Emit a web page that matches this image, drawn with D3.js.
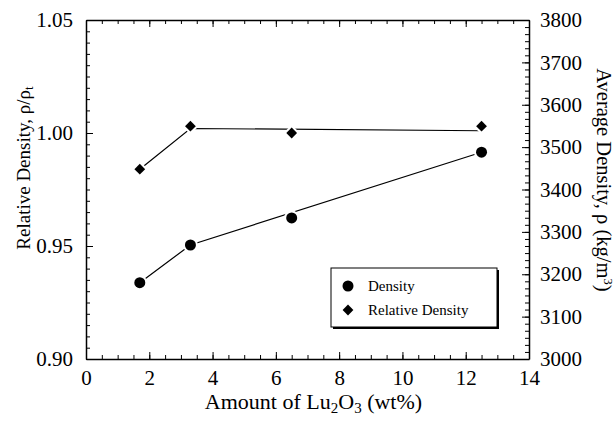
<!DOCTYPE html>
<html>
<head>
<meta charset="utf-8">
<script src="https://cdn.jsdelivr.net/npm/d3@7"></script>
<style>
  body { margin: 0; background: #fff; }
  svg { display: block; font-family: "Liberation Serif", "Times New Roman", serif; }
  .axis path, .axis line { stroke: #000; }
</style>
</head>
<body>
<div id="chart"></div>
<script>
// data
var amount = [1.7, 3.3, 6.5, 12.5];           // wt% Lu2O3
var density = [3180, 3269, 3333, 3488];       // kg/m3, right axis
var relDensity = [0.984, 1.003, 1.000, 1.003]; // left axis
// drawn trend lines
var densityLineX = [1.7, 3.3, 12.5];
var densityLineY = [3180, 3269, 3488];
var relLineX = [1.7, 3.3, 12.5];
var relLineY = [0.984, 1.002, 1.001];
// ticks
var xTicks = [0, 2, 4, 6, 8, 10, 12, 14];
var leftTicks = [0.90, 0.95, 1.00, 1.05];
var rightTicks = [3000, 3100, 3200, 3300, 3400, 3500, 3600, 3700, 3800];
var legendNames = ["Density", "Relative Density"];

var width = 616, height = 423;
// plot box (window.top is reserved, so prefixed names)
var pLeft = 86, pRight = 529, pTop = 20, pBottom = 359;
var serif = "Liberation Serif";

var x = d3.scaleLinear().domain([0, 14]).range([pLeft, pRight]);
var yL = d3.scaleLinear().domain([0.90, 1.05]).range([pBottom, pTop]);
var yR = d3.scaleLinear().domain([3000, 3800]).range([pBottom, pTop]);

var svg = d3.select("#chart").append("svg")
    .attr("width", width).attr("height", height);

var xMinor = d3.range(0, 14.001, 0.5);
var lMinor = d3.range(0.90, 1.0501, 0.005);
var rMinor = d3.range(3000, 3800.1, 100 / 6);

// minor ticks first
svg.append("g").attr("class", "axis").attr("transform", "translate(0," + pBottom + ")")
    .call(d3.axisBottom(x).tickValues(xMinor).tickSize(-4).tickFormat(""))
    .call(g => g.select(".domain").remove());
svg.append("g").attr("class", "axis").attr("transform", "translate(0," + pTop + ")")
    .call(d3.axisTop(x).tickValues(xMinor).tickSize(-4).tickFormat(""))
    .call(g => g.select(".domain").remove());
svg.append("g").attr("class", "axis").attr("transform", "translate(" + pLeft + ",0)")
    .call(d3.axisLeft(yL).tickValues(lMinor).tickSize(-4).tickFormat(""))
    .call(g => g.select(".domain").remove());
svg.append("g").attr("class", "axis").attr("transform", "translate(" + pRight + ",0)")
    .call(d3.axisRight(yR).tickValues(rMinor).tickSize(-4).tickFormat(""))
    .call(g => g.select(".domain").remove());

// major axes
svg.append("g").attr("class", "axis").attr("transform", "translate(0," + pBottom + ")")
    .call(d3.axisBottom(x).tickValues(xTicks).tickSize(-7).tickSizeOuter(0).tickPadding(11).tickFormat(d3.format("d")));

svg.append("g").attr("class", "axis").attr("transform", "translate(0," + pTop + ")")
    .call(d3.axisTop(x).tickValues(xTicks).tickSize(-7).tickSizeOuter(0).tickFormat(""));

svg.append("g").attr("class", "axis").attr("transform", "translate(" + pLeft + ",0)")
    .call(d3.axisLeft(yL).tickValues(leftTicks).tickSize(-7).tickSizeOuter(0).tickPadding(13).tickFormat(d3.format(".2f")));

svg.append("g").attr("class", "axis").attr("transform", "translate(" + pRight + ",0)")
    .call(d3.axisRight(yR).tickValues(rightTicks).tickSize(-7).tickSizeOuter(0).tickPadding(11).tickFormat(d3.format("d")));

svg.selectAll(".axis").attr("font-family", serif).attr("font-size", 21);
svg.selectAll(".axis text").attr("font-family", serif).attr("fill", "#000");
svg.selectAll(".axis path.domain").attr("stroke-width", 1.5);

// trend lines
var lineD = d3.line().x(d => x(d[0])).y(d => yR(d[1]));
var lineR = d3.line().x(d => x(d[0])).y(d => yL(d[1]));
svg.append("path").datum(d3.zip(densityLineX, densityLineY))
    .attr("d", lineD).attr("fill", "none").attr("stroke", "#000").attr("stroke-width", 1.2);
svg.append("path").datum(d3.zip(relLineX, relLineY))
    .attr("d", lineR).attr("fill", "none").attr("stroke", "#000").attr("stroke-width", 1.2);

var diamond = d3.symbol().type(d3.symbolSquare).size(58);

// markers with white halo so the lines stop short of them
svg.selectAll("circle.dens").data(d3.zip(amount, density)).enter()
    .append("circle").attr("class", "dens")
    .attr("cx", d => x(d[0])).attr("cy", d => yR(d[1])).attr("r", 5.5)
    .attr("fill", "#000").attr("stroke", "#fff").attr("stroke-width", 4)
    .style("paint-order", "stroke");
svg.selectAll("path.rel").data(d3.zip(amount, relDensity)).enter()
    .append("path").attr("class", "rel")
    .attr("d", diamond)
    .attr("transform", d => "translate(" + x(d[0]) + "," + yL(d[1]) + ") rotate(45)")
    .attr("fill", "#000").attr("stroke", "#fff").attr("stroke-width", 4)
    .style("paint-order", "stroke");

// legend
var lg = svg.append("g");
lg.append("rect").attr("x", 333).attr("y", 270).attr("width", 166).attr("height", 59)
    .attr("fill", "#000");
lg.append("rect").attr("x", 331).attr("y", 268).attr("width", 166).attr("height", 59)
    .attr("fill", "#fff").attr("stroke", "#000").attr("stroke-width", 1);
lg.append("circle").attr("cx", 348).attr("cy", 286).attr("r", 5.5).attr("fill", "#000");
lg.append("path").attr("d", diamond).attr("transform", "translate(348,310) rotate(45)").attr("fill", "#000");
lg.selectAll("text").data(legendNames).enter().append("text")
    .attr("x", 368).attr("y", (d, i) => 291 + i * 24)
    .style("font-size", "15px").text(d => d);

// axis titles
var xt = svg.append("text").attr("x", (pLeft + pRight) / 2 + 6).attr("y", 409)
    .attr("text-anchor", "middle").style("font-size", "22px");
xt.append("tspan").text("Amount of Lu");
xt.append("tspan").attr("baseline-shift", "-25%").style("font-size", "15px").text("2");
xt.append("tspan").text("O");
xt.append("tspan").attr("baseline-shift", "-25%").style("font-size", "15px").text("3");
xt.append("tspan").text(" (wt%)");

var lt = svg.append("text").attr("transform", "translate(30,168) rotate(-90)")
    .attr("text-anchor", "middle").style("font-size", "19px");
lt.append("tspan").text("Relative Density, \u03c1/\u03c1");
lt.append("tspan").attr("baseline-shift", "-25%").style("font-size", "13px").text("t");

var rt = svg.append("text").attr("transform", "translate(597,180) rotate(90)")
    .attr("text-anchor", "middle").style("font-size", "20.5px");
rt.append("tspan").text("Average Density, \u03c1 (kg/m");
rt.append("tspan").attr("baseline-shift", "super").style("font-size", "13px").text("3");
rt.append("tspan").text(")");
</script>
</body>
</html>
